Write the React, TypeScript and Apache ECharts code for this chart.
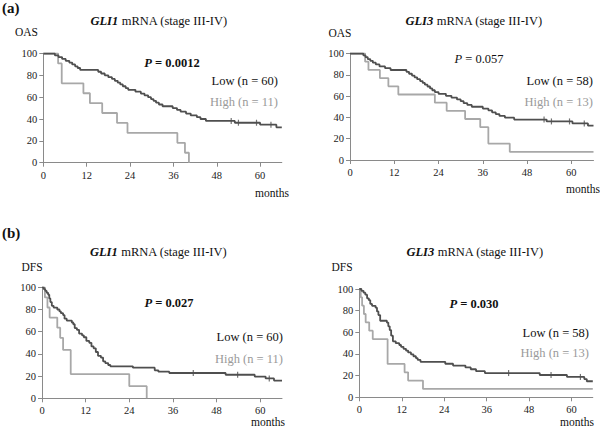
import React, { useEffect, useRef } from "react";
import * as echarts from "echarts";

// ---------- data (months, survival %) ----------
const xTicks = [0, 12, 24, 36, 48, 60];
const yTicks = [0, 20, 40, 60, 80, 100];

// (a) OAS, GLI1
const oasGli1Low: number[][] = [
  [0, 100], [3.2, 98.3], [4.2, 96.7], [5.2, 95], [6.2, 93.3], [7.2, 91.7], [8, 90], [8.8, 88.3],
  [9.5, 86.7], [10.2, 85], [15.2, 83.3], [16, 81.7], [17, 80], [18, 78.3], [19, 76.7], [19.8, 75],
  [20.6, 73.3], [21.3, 71.7], [22, 70], [22.8, 68.3], [23.5, 66.7], [25.5, 65], [27, 63.3],
  [28, 61.7], [29, 60], [29.8, 58.3], [30.5, 56.7], [31.2, 55], [32, 53.3], [33, 51.7], [35.8, 50],
  [37, 48.3], [38, 46.7], [39.5, 45], [40.8, 43.3], [42.5, 41.7], [43.5, 40], [45, 38.3],
  [53, 36.6], [60, 34.8], [64.5, 32.4], [66, 32.4],
];
const oasGli1LowCensor: number[][] = [[52, 38.3], [54, 36.6], [59, 36.6], [63, 34.8]];
const oasGli1High: number[][] = [
  [0, 100], [4.1, 90.9], [5.1, 72.7], [11.1, 63.6], [12.9, 54.5], [16.3, 45.5], [20.4, 36.4],
  [23.3, 27.3], [37.1, 18.2], [39.2, 9.1], [40.3, 0],
];

// (a) OAS, GLI3
const oasGli3Low: number[][] = [
  [0, 100], [3.6, 98.3], [4.2, 96.6], [4.8, 94.8], [5.5, 93.1], [6.2, 91.4], [7, 89.7], [8, 87.9],
  [9.5, 86.2], [11, 84.5], [15.3, 82.8], [16, 81], [16.8, 79.3], [17.5, 77.6], [18.2, 75.9],
  [19, 74.1], [19.7, 72.4], [20.3, 70.7], [21, 69], [21.7, 67.2], [22.3, 65.5], [23, 63.8],
  [24, 62.1], [26, 60.3], [27.5, 58.6], [29, 56.9], [30, 55.2], [30.8, 53.4], [31.8, 51.7],
  [33, 50], [36, 48.3], [37.5, 46.6], [38.5, 44.8], [39.5, 43.1], [40.5, 41.4], [42, 39.7],
  [44.5, 38], [53.3, 36.2], [60.3, 34.3], [64.5, 32.2], [66, 32.2],
];
const oasGli3LowCensor: number[][] = [[52.6, 38], [54.6, 36.2], [59.5, 36.2], [63.5, 34.3]];
const oasGli3High: number[][] = [
  [0, 100], [4.1, 92.3], [5, 84.6], [8.1, 76.9], [10.4, 69.2], [13.1, 61.5], [23, 53.8],
  [26.2, 46.2], [31.2, 38.5], [35.3, 30.8], [37.5, 15.4], [43.3, 7.7], [66, 7.7],
];

// (b) DFS, GLI1
const dfsGli1Low: number[][] = [
  [0, 100], [0.5, 98.3], [0.9, 96.7], [1.3, 95], [1.7, 93.3], [2, 90], [2.3, 86.7], [2.7, 83.3],
  [3.2, 81.7], [4.2, 80], [4.8, 78.3], [5.2, 76.7], [5.8, 75], [6.2, 71.7], [6.8, 70], [8.2, 68.3],
  [8.6, 66.7], [9, 63.3], [9.6, 61.7], [10.2, 58.3], [11, 56.7], [11.5, 55], [12.2, 51.7],
  [13, 50], [13.6, 46.7], [14.2, 45], [14.8, 41.7], [15.4, 38.3], [16.2, 36.7], [16.8, 33.3],
  [17.4, 31.7], [18.2, 30], [18.8, 28.8], [25, 27.6], [31, 25.2], [32, 24], [35, 22.8],
  [50.5, 21.2], [58.5, 19.6], [61.5, 17.9], [63.8, 16], [66, 16],
];
const dfsGli1LowCensor: number[][] = [[41.6, 22.8], [53.8, 21.2], [62.5, 17.9]];
const dfsGli1High: number[][] = [
  [0, 100], [0.8, 90.9], [1.5, 81.8], [2.1, 72.7], [4.2, 63.6], [5, 54.5], [5.8, 43.6],
  [7.9, 21.8], [24, 10.9], [28.8, 0],
];

// (b) DFS, GLI3
const dfsGli3Low: number[][] = [
  [0, 100], [0.6, 98.3], [1.2, 96.6], [1.7, 94.8], [2.2, 91.4], [2.7, 89.7], [3.1, 86.2],
  [3.6, 84.5], [4.6, 82.8], [5, 79.3], [5.4, 75.9], [5.9, 70.7], [7.8, 69], [8.2, 65.5],
  [8.6, 62.1], [9, 56.9], [9.5, 51.7], [10.3, 50], [11.3, 48.3], [11.8, 46.6], [12.5, 44.8],
  [13.2, 43.1], [13.8, 41.4], [14.6, 39.7], [15.3, 37.9], [16, 36.2], [16.5, 34.5], [17.3, 32.8],
  [24.3, 31], [26.5, 29.3], [30, 27.6], [31.5, 25.9], [33, 24.1], [35.5, 22.4], [51, 20.6],
  [58.7, 18.8], [63.6, 16.8], [64.3, 14.8], [66, 14.8],
];
const dfsGli3LowCensor: number[][] = [[42.2, 22.4], [54.2, 20.6], [62.5, 18.8]];
const dfsGli3High: number[][] = [
  [0, 100], [0.4, 92.3], [0.8, 84.6], [1.3, 76.9], [1.8, 69.2], [2.8, 61.5], [3.8, 53.8],
  [8, 30.8], [12.8, 23.1], [13.8, 15.4], [18, 7.7], [66, 7.7],
];

const panelTitles = ["GLI1", "GLI3", "GLI1", "GLI3"];
const yNames = ["OAS", "OAS", "DFS", "DFS"];
const pValues = ["0.0012", "0.057", "0.027", "0.030"];
const pBold = [true, false, true, true];
const lowLabels = ["Low (n = 60)", "Low (n = 58)", "Low (n = 60)", "Low (n = 58)"];
const highLabels = ["High (n = 11)", "High (n = 13)", "High (n = 11)", "High (n = 13)"];

const FONT = "Liberation Serif";
const LOW_COLOR = "#4f4f4f";
const HIGH_COLOR = "#a8a8a8";
const AXIS_COLOR = "#8a8a8a";

export default function App() {
  const ref = useRef<HTMLDivElement>(null);

  useEffect(() => {
    if (!ref.current) return;
    const chart = echarts.init(ref.current, undefined, { renderer: "svg" });

    const grids = [
      { left: 43.3, top: 53.5, width: 238.5, height: 109.2 },
      { left: 350, top: 53.5, width: 243.5, height: 106.5 },
      { left: 42, top: 287.3, width: 240, height: 111 },
      { left: 359.3, top: 289, width: 233.5, height: 108.3 },
    ];

    const lows = [oasGli1Low, oasGli3Low, dfsGli1Low, dfsGli3Low];
    const highs = [oasGli1High, oasGli3High, dfsGli1High, dfsGli3High];
    const censors = [oasGli1LowCensor, oasGli3LowCensor, dfsGli1LowCensor, dfsGli3LowCensor];

    const xAxes = grids.map((_, i) => ({
      type: "value",
      gridIndex: i,
      min: 0,
      max: 66,
      interval: 12,
      splitLine: { show: false },
      axisLine: { show: true, lineStyle: { color: AXIS_COLOR, width: 1 } },
      axisTick: { show: true, length: 4, lineStyle: { color: AXIS_COLOR }, customValues: xTicks },
      axisLabel: {
        customValues: xTicks,
        fontSize: 10.5,
        color: "#222",
        fontFamily: FONT,
        margin: 7,
      },
    }));
    const yAxes = grids.map((_, i) => ({
      type: "value",
      gridIndex: i,
      min: 0,
      max: 100,
      interval: 20,
      splitLine: { show: false },
      axisLine: { show: true, lineStyle: { color: AXIS_COLOR, width: 1 } },
      axisTick: { show: true, length: 4, lineStyle: { color: AXIS_COLOR }, customValues: yTicks },
      axisLabel: { fontSize: 10.5, color: "#222", fontFamily: FONT, margin: 6 },
    }));

    const series: any[] = [];
    grids.forEach((_, i) => {
      series.push({
        type: "line",
        xAxisIndex: i,
        yAxisIndex: i,
        data: highs[i],
        step: "end",
        showSymbol: false,
        lineStyle: { color: HIGH_COLOR, width: 1.8 },
        z: 2,
      });
      series.push({
        type: "line",
        xAxisIndex: i,
        yAxisIndex: i,
        data: lows[i],
        step: "end",
        showSymbol: false,
        lineStyle: { color: LOW_COLOR, width: 1.8 },
        z: 3,
      });
      series.push({
        type: "scatter",
        xAxisIndex: i,
        yAxisIndex: i,
        data: censors[i],
        symbol: "rect",
        symbolSize: [1.2, 6],
        itemStyle: { color: LOW_COLOR },
        z: 4,
      });
    });

    const txt = (x: number, y: number, text: string, extra: any = {}) => ({
      type: "text",
      x,
      y,
      style: {
        text,
        fontFamily: FONT,
        fontSize: 12,
        fill: "#111",
        align: "left",
        verticalAlign: "middle",
        ...extra,
      },
    });

    const titlePos = [[159, 21], [474, 21], [158.5, 252], [475, 252]];
    const yNamePos = [[26.5, 32], [340, 33], [32, 267], [342, 267]];
    const pPos = [[172, 63], [479, 59], [169, 303], [474, 304]];
    const lowPos = [[278, 81], [593, 81], [283, 337], [589, 333]];
    const highPos = [[278, 102], [593, 102], [283, 359], [589, 353]];
    const monthsPos = [[272, 193], [583, 189], [268, 422], [577, 422]];

    const graphics: any[] = [
      txt(2, 8, "(a)", { fontWeight: "bold", fontSize: 15 }),
      txt(2, 233, "(b)", { fontWeight: "bold", fontSize: 15 }),
    ];
    grids.forEach((_, i) => {
      graphics.push(
        txt(titlePos[i][0], titlePos[i][1], `{g|${panelTitles[i]}} mRNA (stage III-IV)`, {
          align: "center",
          fontSize: 12.5,
          rich: {
            g: { fontFamily: FONT, fontSize: 12.5, fontWeight: "bold", fontStyle: "italic", fill: "#111" },
          },
        })
      );
      graphics.push(txt(yNamePos[i][0], yNamePos[i][1], yNames[i], { align: "center", fontSize: 11.5 }));
      graphics.push(
        txt(pPos[i][0], pPos[i][1], `{p|P} = ${pValues[i]}`, {
          align: "center",
          fontSize: 12.5,
          fontWeight: pBold[i] ? "bold" : "normal",
          rich: {
            p: {
              fontFamily: FONT,
              fontSize: 12.5,
              fontStyle: "italic",
              fontWeight: pBold[i] ? "bold" : "normal",
              fill: "#111",
            },
          },
        })
      );
      graphics.push(txt(lowPos[i][0], lowPos[i][1], lowLabels[i], { align: "right", fontSize: 12.5 }));
      graphics.push(
        txt(highPos[i][0], highPos[i][1], highLabels[i], { align: "right", fontSize: 12.5, fill: "#9a9a9a" })
      );
      graphics.push(txt(monthsPos[i][0], monthsPos[i][1], "months", { align: "center", fontSize: 11.5 }));
    });

    chart.setOption({
      animation: false,
      backgroundColor: "#ffffff",
      grid: grids.map((g) => ({ ...g, containLabel: false, outerBoundsMode: "none" })),
      xAxis: xAxes,
      yAxis: yAxes,
      series,
      graphic: graphics,
    } as any);

    return () => chart.dispose();
  }, []);

  return (
    <div
      ref={ref}
      style={{ position: "absolute", left: 0, top: 0, width: 600, height: 430 }}
    />
  );
}
